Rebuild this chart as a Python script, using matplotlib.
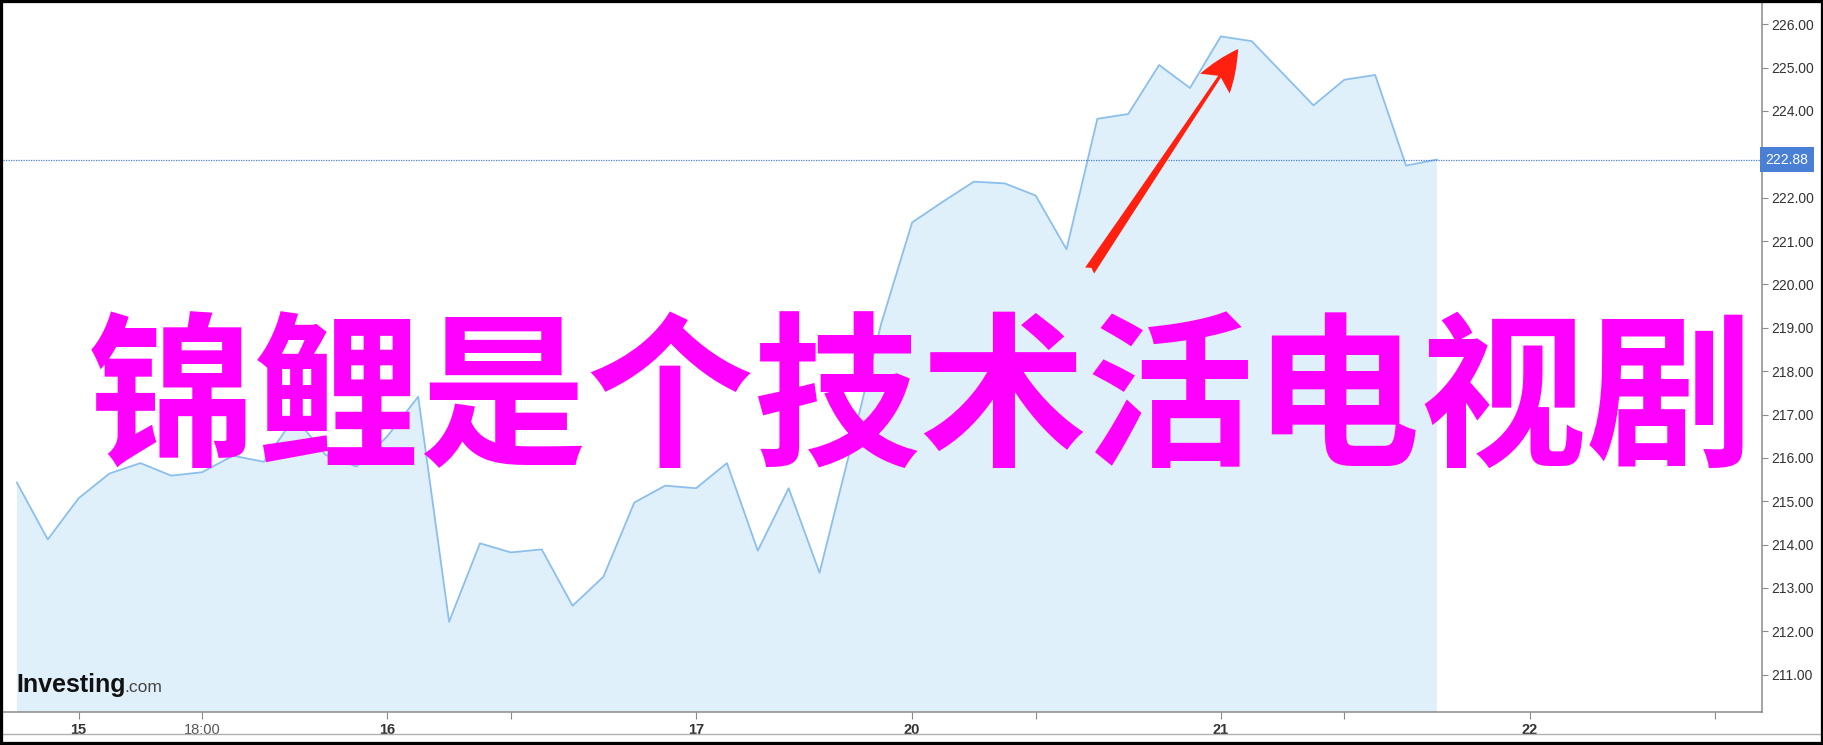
import numpy as np
import matplotlib
matplotlib.use("Agg")
import matplotlib.pyplot as plt
from matplotlib.patches import Rectangle
import matplotlib.transforms as mtransforms

# 价格序列 (每个点一个时段)
prices = [215.43, 214.12, 215.07, 215.64, 215.88, 215.59, 215.67, 216.05, 215.91, 216.94,
          216.07, 215.80, 216.50, 217.41, 212.22, 214.03, 213.82, 213.89, 212.59, 213.26,
          214.97, 215.36, 215.30, 215.88, 213.86, 215.30, 213.35, 216.20, 219.10, 221.43,
          221.91, 222.37, 222.33, 222.05, 220.81, 223.82, 223.93, 225.06, 224.53, 225.72,
          225.61, 224.87, 224.13, 224.72, 224.83, 222.74, 222.88]
last_price = 222.88

# x轴刻度
xtick_pos = [2, 6, 12, 16, 22, 29, 33, 39, 43, 49, 55]
xtick_lab = ['15', '18:00', '16', '', '17', '20', '', '21', '', '22', '']
# 223 被最新价标签挡住
ytick_vals = [211, 212, 213, 214, 215, 216, 217, 218, 219, 220, 221, 222, 224, 225, 226]

title = '锦鲤是个技术活电视剧'
arrow_from = (34.75, 220.32)
arrow_to = (39.56, 225.43)

W, H = 1824, 745
fig = plt.figure(figsize=(W / 100, H / 100), dpi=100)
fig.patch.set_facecolor('white')
ax = fig.add_axes([3 / W, 1 - 712 / H, (1762 - 3) / W, (712 - 3) / H])
ax.set_facecolor('white')

x = np.arange(len(prices))
ax.fill_between(x, prices, 200, color='#e0f0fa', lw=0, zorder=1)
ax.plot(x, prices, color='#8cbfec', lw=1.3, zorder=2)
ax.axhline(last_price, color='#4a7fd6', lw=0.9, ls=(0, (1, 1)), zorder=3)

ax.set_xlim(-0.45, 56.53)
ax.set_ylim(210.14, 226.49)

for s in ['top', 'left']:
    ax.spines[s].set_visible(False)
for s in ['right', 'bottom']:
    ax.spines[s].set_color('#8a8a8a')
    ax.spines[s].set_linewidth(1.1)

ax.yaxis.tick_right()
ax.set_yticks(ytick_vals)
ax.set_yticklabels(['%.2f' % v for v in ytick_vals])
ax.tick_params(axis='y', direction='out', length=4, width=0.8, colors='#8a8a8a',
               labelcolor='#333333', labelsize=10, pad=3)
ax.set_xticks(xtick_pos)
ax.set_xticklabels(xtick_lab)
ax.tick_params(axis='x', direction='out', length=5, width=0.8, colors='#8a8a8a',
               labelcolor='#333333', labelsize=10.5, pad=3)
for t in ax.get_yticklabels() + ax.get_xticklabels():
    t.set_family(['Liberation Sans', 'DejaVu Sans'])
for t in ax.get_xticklabels():
    if t.get_text() == '18:00':
        t.set_color('#555555')
    else:
        t.set_fontweight('bold')

# 最新价标签
trans = mtransforms.blended_transform_factory(ax.transAxes, ax.transData)
ax.text(1.002, last_price, '%.2f' % last_price, transform=trans, ha='left', va='center',
        color='white', fontsize=10, family=['Liberation Sans', 'DejaVu Sans'],
        bbox=dict(boxstyle='square,pad=0.38', fc='#4a7fd6', ec='none'), clip_on=False, zorder=5)

# 红色箭头
ax.annotate('', xy=arrow_to, xytext=arrow_from,
            arrowprops=dict(arrowstyle='fancy,head_length=1.0,head_width=0.85,tail_width=0.26',
                            fc='#ff2010', ec='none', shrinkA=0, shrinkB=0, mutation_scale=30),
            zorder=6)

# Investing.com 标志
ax.text(13 / 1759, (712 - 692) / 709, 'Investing', transform=ax.transAxes,
        fontsize=18, fontweight='bold', color='#111111', family=['Liberation Sans', 'DejaVu Sans'],
        ha='left', va='baseline', zorder=4)
ax.text(121 / 1759, (712 - 692) / 709, '.com', transform=ax.transAxes,
        fontsize=12.5, color='#444444', family=['Liberation Sans', 'DejaVu Sans'],
        ha='left', va='baseline', zorder=4)

# 大标题
fig.text(921 / W, 1 - 405 / H, title, fontsize=120, color='#ff00ff', fontweight='bold',
         family=['Noto Sans CJK SC', 'DejaVu Sans'], ha='center', va='center', zorder=10)

# 外框
fig.add_artist(plt.Line2D([3 / W, 1 - 3 / W], [1 - 734 / H, 1 - 734 / H], transform=fig.transFigure,
                          color='#b0b0b0', lw=1))
fig.patches.append(Rectangle((0, 0), 1, 1, transform=fig.transFigure, fill=False,
                             ec='black', lw=4.5, zorder=20))

fig.savefig('out.png', dpi=100)
